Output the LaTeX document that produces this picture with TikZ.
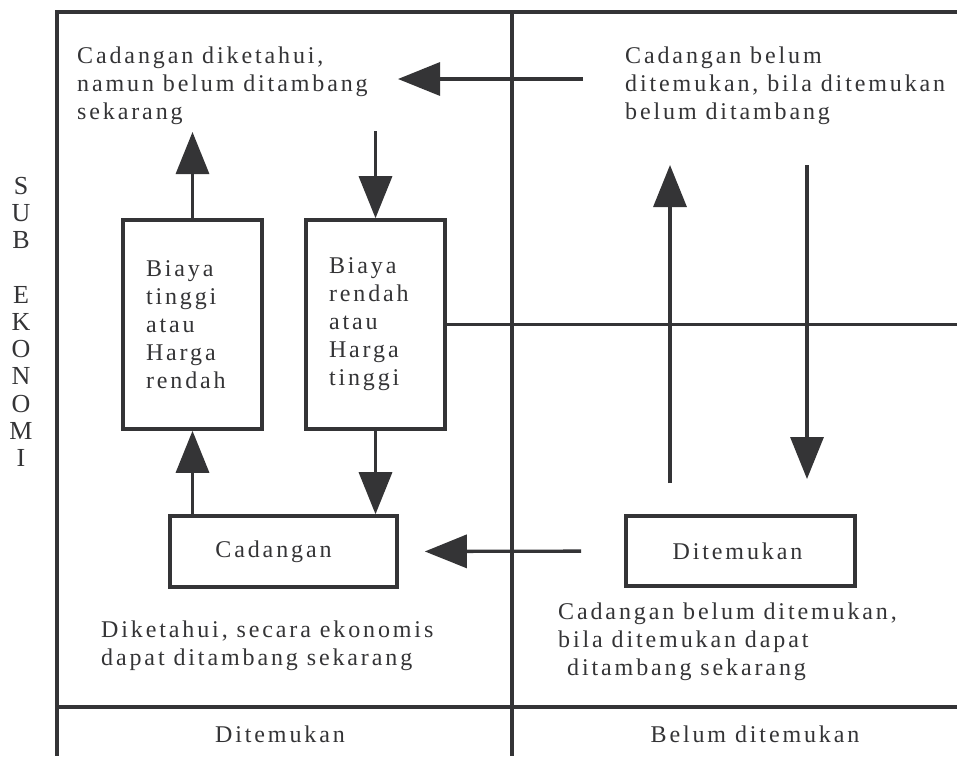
\documentclass[tikz,border=0pt]{standalone}
\usepackage{fontspec}
\setmainfont{Liberation Serif}
\newfontfamily\renggang[LetterSpace=12]{Liberation Serif}
\usetikzlibrary{arrows.meta}
\definecolor{abu}{RGB}{52,52,54}
\begin{document}
\begin{tikzpicture}[x=1pt, y=-1pt,
  kotak/.style={draw=abu, line width=3.6pt, inner sep=0pt},
  teks/.style={text=abu, font=\renggang\fontsize{24}{28}\selectfont, align=left, inner sep=0pt},
  panah/.style={draw=abu, line width=3.3pt, -{Triangle[length=42pt,width=33pt]}},
  bingkai/.style={draw=abu, line width=3.3pt}]
\fill[white] (0,0) rectangle (957,756);
\useasboundingbox (0,0) rectangle (957,756);
\draw[bingkai] (957,12) -- (57,12) -- (57,756);
\draw[bingkai] (512,12) -- (512,756);
\draw[bingkai] (57,707) -- (957,707);
\node (SE) [text=abu, font=\fontsize{26}{27.2}\selectfont, align=center, inner sep=0pt, anchor=north] at (21,177) {S\\U\\B\\[27.2pt]E\\K\\O\\N\\O\\M\\I};
\node (BT) [kotak, teks, minimum width=139pt, minimum height=209pt, text width=93pt] at (192.5,324.5) {Biaya\\tinggi\\atau\\Harga\\rendah};
\node (BR) [kotak, teks, minimum width=139pt, minimum height=209pt, text width=93pt] at (375.5,324.5) {Biaya\\rendah\\atau\\Harga\\tinggi};
\node (C) [kotak, teks, minimum width=227pt, minimum height=71pt] at (283.5,551.5) {Cadangan\hspace*{20pt}};
\node (D) [kotak, teks, minimum width=229pt, minimum height=70pt] at (740.5,551) {Ditemukan\hspace*{6pt}};
\node (TK) [teks, anchor=north west] at (77,47) {Cadangan diketahui,\\namun belum ditambang\\sekarang};
\node (TB) [teks, anchor=north west] at (625,47) {Cadangan belum\\ditemukan, bila ditemukan\\belum ditambang};
\node (EK) [teks, anchor=north west] at (101,621) {Diketahui, secara ekonomis\\dapat ditambang sekarang};
\node (BE) [teks, anchor=north west] at (558,603) {Cadangan belum ditemukan,\\bila ditemukan dapat\\\hspace*{9pt}ditambang sekarang};
\node (KD) [teks, anchor=base] at (280,742) {Ditemukan};
\node (KB) [teks, anchor=base] at (755,742) {Belum ditemukan};
\coordinate (A1) at (192.5,132);
\coordinate (A2) at (375.5,131);
\coordinate (A3) at (583,79);
\coordinate (A4) at (398,79);
\coordinate (A5) at (670,483);
\coordinate (A6) at (670,165);
\coordinate (A7) at (807,165);
\coordinate (A8) at (807,479);
\draw[bingkai] (BR.east) -- ++(512,0);
\draw[panah] (BT.north) -- (A1);
\draw[panah] (A2) -- (BR.north);
\draw[panah] (BT.south |- C.north) -- (BT.south);
\draw[panah] (BR.south) -- (BR.south |- C.north);
\draw[panah, shorten <=43pt, shorten >=26pt] (D.west) -- (C.east);
\draw[panah] (A3) -- (A4);
\draw[panah] (A5) -- (A6);
\draw[panah] (A7) -- (A8);
\end{tikzpicture}
\end{document}
